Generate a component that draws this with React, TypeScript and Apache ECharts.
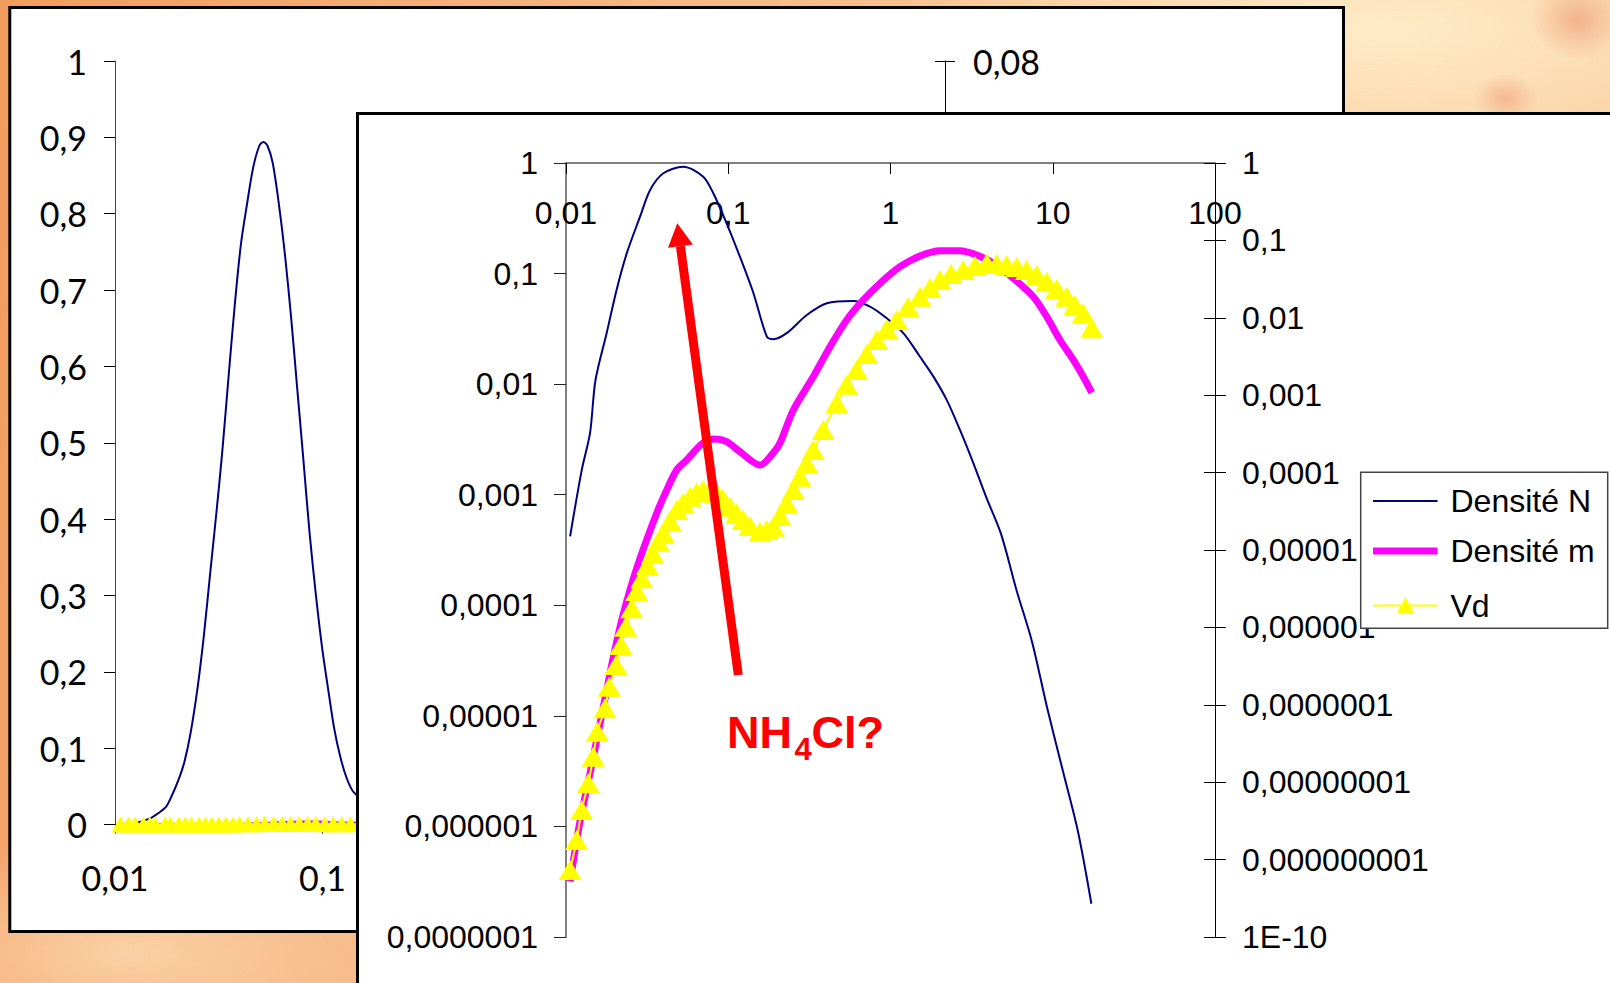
import React, { useEffect, useRef } from "react";
import * as echarts from "echarts";

// ---------- tick labels ----------
const xTickLabels = ["0,01", "0,1", "1", "10", "100"];
const leftTickLabels = ["0,0000001", "0,000001", "0,00001", "0,0001", "0,001", "0,01", "0,1", "1"];
const rightTickLabels = ["1E-10", "0,000000001", "0,00000001", "0,0000001", "0,000001", "0,00001", "0,0001", "0,001", "0,01", "0,1", "1"];
const backLeftLabels = ["0", "0,1", "0,2", "0,3", "0,4", "0,5", "0,6", "0,7", "0,8", "0,9", "1"];
const backRightLabels = ["0", "0,01", "0,02", "0,03", "0,04", "0,05", "0,06", "0,07", "0,08"];
const seriesNames = ["Densité N", "Densité m", "Vd"];

// ---------- front chart (log-log) ----------
const nX = [0.0106, 0.0125, 0.01406, 0.0152, 0.0178, 0.0205, 0.0237, 0.0286, 0.033, 0.0398, 0.0528, 0.0701, 0.0809, 0.0977, 0.118, 0.143, 0.173, 0.19, 0.229, 0.305, 0.405, 0.59, 0.748, 0.948, 1.2, 1.52, 1.84, 2.22, 2.68, 3.24, 3.9, 4.8, 5.98, 7.45, 9.25, 11.5, 14.3, 17.3];
const nY = [4.2e-4, 1.67e-3, 3.6e-3, 0.0109, 0.0289, 0.0711, 0.153, 0.327, 0.57, 0.807, 0.926, 0.752, 0.532, 0.285, 0.142, 0.0664, 0.0269, 0.0255, 0.0289, 0.0422, 0.0539, 0.0565, 0.0502, 0.0394, 0.0289, 0.0177, 0.0117, 0.0072, 3.85e-3, 1.93e-3, 9.4e-4, 4.42e-4, 1.37e-4, 4.69e-5, 1.17e-5, 3.25e-6, 9.0e-7, 2.0e-7];

const mX = [0.0106, 0.0122, 0.01406, 0.017, 0.0196, 0.0226, 0.0273, 0.0362, 0.0418, 0.0481, 0.0555, 0.0699, 0.0829, 0.0977, 0.118, 0.157, 0.189, 0.208, 0.252, 0.334, 0.424, 0.537, 0.68, 0.862, 1.144, 1.52, 2.02, 2.68, 3.4, 4.3, 5.71, 7.59, 9.18, 11.08, 13.39, 15.42, 17.4];
const mY = [5.2e-10, 3.15e-9, 1.3e-8, 9.45e-8, 4.19e-7, 1.52e-6, 5.85e-6, 2.98e-5, 5.96e-5, 1.08e-4, 1.46e-4, 2.41e-4, 2.72e-4, 2.51e-4, 1.86e-4, 1.25e-4, 1.79e-4, 2.39e-4, 6.44e-4, 1.73e-3, 4.23e-3, 9.37e-3, 0.017, 0.0279, 0.0457, 0.0629, 0.0736, 0.0736, 0.0648, 0.0506, 0.0324, 0.0187, 0.01033, 5.17e-3, 2.85e-3, 1.73e-3, 1.08e-3];

const vX = [0.0106, 0.01164, 0.0125, 0.01372, 0.01473, 0.0156, 0.0174, 0.01849, 0.02033, 0.02183, 0.02333, 0.0254, 0.02727, 0.02929, 0.0317, 0.03423, 0.03707, 0.0398, 0.04375, 0.04812, 0.05261, 0.05811, 0.0639, 0.0701, 0.07717, 0.08487, 0.0928, 0.1025, 0.1127, 0.1238, 0.1361, 0.157, 0.1726, 0.1896, 0.2084, 0.229, 0.2518, 0.2768, 0.3045, 0.334, 0.3853, 0.4661, 0.537, 0.6191, 0.7135, 0.8222, 0.948, 1.092, 1.282, 1.52, 1.751, 2.018, 2.36, 2.81, 3.32, 3.92, 4.51, 5.2, 6.0, 6.91, 7.96, 9.18, 10.57, 12.19, 13.71, 15.42, 17.4];
const vY = [7.35e-10, 1.79e-9, 4.38e-9, 9.68e-9, 2.14e-8, 4.49e-8, 9.02e-8, 1.71e-7, 3.27e-7, 5.92e-7, 1.02e-6, 1.77e-6, 2.95e-6, 4.31e-6, 6.4e-6, 9.07e-6, 1.28e-5, 1.64e-5, 2.37e-5, 3.29e-5, 4.05e-5, 4.89e-5, 5.53e-5, 5.96e-5, 5.78e-5, 5.4e-5, 4.56e-5, 3.63e-5, 2.96e-5, 2.44e-5, 2.04e-5, 1.72e-5, 1.81e-5, 2.0e-5, 2.75e-5, 4.01e-5, 5.96e-5, 8.85e-5, 1.32e-4, 1.96e-4, 3.55e-4, 7.86e-4, 1.36e-3, 2.12e-3, 3.41e-3, 5.17e-3, 7.17e-3, 9.37e-3, 0.0138, 0.0187, 0.0243, 0.0308, 0.0368, 0.0415, 0.0467, 0.0506, 0.0496, 0.0481, 0.0453, 0.0415, 0.0357, 0.0293, 0.0236, 0.0187, 0.01464, 0.01143, 0.00732];

// ---------- back chart (log x, linear y) ----------
const bnX = [0.0106, 0.0125, 0.0148, 0.0162, 0.0176, 0.0188, 0.0202, 0.0216, 0.0231, 0.025, 0.0268, 0.0287, 0.0308, 0.0329, 0.0352, 0.0377, 0.0404, 0.0433, 0.0463, 0.0496, 0.0519, 0.0543, 0.0575, 0.0616, 0.066, 0.0706, 0.0756, 0.081, 0.0867, 0.0929, 0.0994, 0.1065, 0.114, 0.122, 0.1307, 0.1416, 0.17, 0.19, 0.229, 0.305, 0.405, 0.59, 0.948, 1.52, 2.68, 4.8, 9.25, 17.3];
const bnY = [0.0004, 0.0017, 0.008, 0.015, 0.023, 0.038, 0.058, 0.082, 0.119, 0.179, 0.247, 0.327, 0.408, 0.489, 0.584, 0.678, 0.759, 0.813, 0.86, 0.889, 0.894, 0.889, 0.867, 0.813, 0.745, 0.664, 0.57, 0.476, 0.381, 0.301, 0.233, 0.177, 0.125, 0.088, 0.061, 0.042, 0.027, 0.0255, 0.029, 0.042, 0.054, 0.0565, 0.039, 0.0177, 0.0039, 0.0004, 0.00001, 0.0000002];

const pairs = (xs: number[], ys: number[]) => xs.map((x, i) => [x, ys[i]]);
const logLabel = (labels: string[], offset: number) => (v: number) => labels[Math.round(Math.log10(v)) + offset] ?? "";

const FONT = "'Liberation Sans', Arial, sans-serif";
const BACKFONT = "Lato, 'Open Sans', sans-serif";
const NAVY = "#000080";
const MAGENTA = "#FF00FF";
const YELLOW = "#FFFF00";
const RED = "#FF0000";

const noSplit = { show: false };

// legend drawn as a framed block (rows: line sample + label)
const LEG = { x: 1360.7, y: 472.3, w: 247, h: 156, lx1: 1373, lx2: 1437.5, tx: 1450.5, rows: [501, 551, 605.5] };
const legendColors = [NAVY, MAGENTA, YELLOW];
const legendWidths = [2, 7, 2];

const legendElements: any[] = [
  { type: "rect", z: 50, shape: { x: LEG.x, y: LEG.y, width: LEG.w, height: LEG.h }, style: { fill: "#fff", stroke: "#444", lineWidth: 1.5 } },
  ...seriesNames.map((name, i) => ({
    type: "line", z: 51,
    shape: { x1: LEG.lx1, y1: LEG.rows[i], x2: LEG.lx2, y2: LEG.rows[i] },
    style: { stroke: legendColors[i], lineWidth: legendWidths[i] },
  })),
  {
    type: "polygon", z: 52,
    shape: { points: [[1405.5, LEG.rows[2] - 8.5], [1397, LEG.rows[2] + 7.5], [1414, LEG.rows[2] + 7.5]] },
    style: { fill: YELLOW },
  },
  ...seriesNames.map((name, i) => ({
    type: "text", z: 52, x: LEG.tx, y: LEG.rows[i],
    style: { text: name, fill: "#000", font: `32px ${FONT}`, align: "left", verticalAlign: "middle" },
  })),
];

const frontOption: any = {
  animation: false,
  grid: { left: 566, top: 163, width: 649, height: 774, containLabel: false, outerBoundsMode: "none" },
  xAxis: [
    {
      type: "log", logBase: 10, min: 0.01, max: 100, interval: 1, position: "top",
      axisLine: { show: true, lineStyle: { color: "#808080", width: 2 } },
      axisTick: { show: true, inside: true, length: 11, lineStyle: { color: "#000", width: 1 } },
      minorTick: { show: false },
      axisLabel: { inside: true, margin: 34, fontSize: 32, fontFamily: FONT, color: "#000", hideOverlap: false, showMinLabel: true, showMaxLabel: true, formatter: logLabel(xTickLabels, 2) },
      splitLine: noSplit,
    },
  ],
  yAxis: [
    {
      type: "log", logBase: 10, min: 1e-7, max: 1, interval: 1, position: "left",
      axisLine: { show: true, lineStyle: { color: "#808080", width: 2 } },
      axisTick: { show: true, inside: false, length: 12, lineStyle: { color: "#222", width: 1 } },
      axisLabel: { margin: 28, fontSize: 32, fontFamily: FONT, color: "#000", hideOverlap: false, showMinLabel: true, showMaxLabel: true, formatter: logLabel(leftTickLabels, 7) },
      splitLine: noSplit,
    },
    {
      type: "log", logBase: 10, min: 1e-10, max: 1, interval: 1, position: "right",
      axisLine: { show: true, lineStyle: { color: "#000", width: 1 } },
      axisTick: { show: true, inside: false, length: 11, lineStyle: { color: "#000", width: 1 } },
      axisLabel: { margin: 27, fontSize: 32, fontFamily: FONT, color: "#000", hideOverlap: false, showMinLabel: true, showMaxLabel: true, formatter: logLabel(rightTickLabels, 10) },
      splitLine: noSplit,
    },
    {
      type: "log", logBase: 10, min: 1e-10, max: 1, interval: 1, position: "right",
      axisLine: { show: false },
      axisTick: { show: true, inside: true, length: 11, lineStyle: { color: "#000", width: 1 } },
      axisLabel: { show: false },
      splitLine: noSplit,
    },
  ],
  graphic: {
    elements: [
      { type: "rect", z: -10, shape: { x: 357.5, y: 113.5, width: 1300, height: 900 }, style: { fill: "#fff", stroke: "#000", lineWidth: 3 } },
      { type: "line", z: 100, shape: { x1: 738.3, y1: 675, x2: 680.4, y2: 246.1 }, style: { stroke: RED, lineWidth: 9 } },
      { type: "polygon", z: 100, shape: { points: [[677.3, 223.3], [668, 247.8], [692.8, 244.4]] }, style: { fill: RED } },
      { type: "text", z: 100, x: 727, y: 732.6, style: { text: "NH", fill: RED, font: `bold 45px ${FONT}`, align: "left", verticalAlign: "middle" } },
      { type: "text", z: 100, x: 794.5, y: 749.5, style: { text: "4", fill: RED, font: `bold 31px ${FONT}`, align: "left", verticalAlign: "middle" } },
      { type: "text", z: 100, x: 811.5, y: 732.6, style: { text: "Cl?", fill: RED, font: `bold 45px ${FONT}`, align: "left", verticalAlign: "middle" } },
      ...legendElements,
    ],
  },
  series: [
    {
      name: seriesNames[0], type: "line", xAxisIndex: 0, yAxisIndex: 0, data: pairs(nX, nY), symbol: "none", smooth: 0.3, z: 3,
      lineStyle: { color: NAVY, width: 2 }, itemStyle: { color: NAVY },
    },
    {
      name: seriesNames[1], type: "line", xAxisIndex: 0, yAxisIndex: 1, data: pairs(mX, mY), symbol: "none", smooth: 0.3, z: 4,
      lineStyle: { color: MAGENTA, width: 7 }, itemStyle: { color: MAGENTA },
    },
    {
      name: seriesNames[2], type: "line", xAxisIndex: 0, yAxisIndex: 1, data: pairs(vX, vY), symbol: "triangle", symbolSize: [23, 20],
      showSymbol: true, showAllSymbol: true, smooth: 0.3, z: 5,
      lineStyle: { color: YELLOW, width: 2 }, itemStyle: { color: YELLOW, borderWidth: 0 },
    },
  ],
};

const backOption: any = {
  animation: false,
  grid: { left: 115, top: 61, width: 830, height: 763.5, containLabel: false, outerBoundsMode: "none" },
  xAxis: [
    {
      type: "log", logBase: 10, min: 0.01, max: 100, interval: 1, position: "bottom",
      axisLine: { show: true, lineStyle: { color: "#000", width: 1 } },
      axisTick: { show: true, inside: false, length: 9, lineStyle: { color: "#000", width: 1 } },
      minorTick: { show: false },
      axisLabel: { margin: 36, fontSize: 34, fontFamily: BACKFONT, color: "#000", hideOverlap: false, showMinLabel: true, formatter: logLabel(xTickLabels, 2) },
      splitLine: noSplit,
    },
  ],
  yAxis: [
    {
      type: "value", min: 0, max: 1, interval: 0.1, position: "left",
      axisLine: { show: true, lineStyle: { color: "#444", width: 1 } },
      axisTick: { show: true, inside: false, length: 11, lineStyle: { color: "#000", width: 1 } },
      axisLabel: { margin: 28, fontSize: 34, fontFamily: BACKFONT, color: "#000", hideOverlap: false, formatter: (v: number) => backLeftLabels[Math.round(v * 10)] ?? "" },
      splitLine: noSplit,
    },
    {
      type: "value", min: 0, max: 0.08, interval: 0.01, position: "right",
      axisLine: { show: true, lineStyle: { color: "#000", width: 1 } },
      axisTick: { show: true, inside: false, length: 10, lineStyle: { color: "#000", width: 1 } },
      axisLabel: { margin: 28, fontSize: 34, fontFamily: BACKFONT, color: "#000", hideOverlap: false, formatter: (v: number) => backRightLabels[Math.round(v * 100)] ?? "" },
      splitLine: noSplit,
    },
    {
      type: "value", min: 0, max: 0.08, interval: 0.01, position: "right",
      axisLine: { show: false },
      axisTick: { show: true, inside: true, length: 10, lineStyle: { color: "#000", width: 1 } },
      axisLabel: { show: false },
      splitLine: noSplit,
    },
  ],
  graphic: {
    elements: [
      { type: "rect", z: -10, shape: { x: 9.8, y: 7.5, width: 1333.7, height: 924 }, style: { fill: "#fff", stroke: "#000", lineWidth: 3 } },
    ],
  },
  series: [
    {
      name: seriesNames[0], type: "line", yAxisIndex: 0, data: pairs(bnX, bnY), symbol: "none", smooth: 0.3, z: 3,
      lineStyle: { color: NAVY, width: 2 }, itemStyle: { color: NAVY },
    },
    {
      name: seriesNames[1], type: "line", yAxisIndex: 1, data: pairs(mX, mY), symbol: "none", z: 4,
      lineStyle: { color: MAGENTA, width: 3 }, itemStyle: { color: MAGENTA },
    },
    {
      name: seriesNames[2], type: "line", yAxisIndex: 1, data: pairs(vX, vY), symbol: "triangle", symbolSize: [18, 16],
      showSymbol: true, showAllSymbol: true, z: 5,
      lineStyle: { color: YELLOW, width: 2 }, itemStyle: { color: YELLOW, borderWidth: 0 },
    },
  ],
};

export default function App() {
  const backRef = useRef<HTMLDivElement>(null);
  const frontRef = useRef<HTMLDivElement>(null);

  useEffect(() => {
    const back = echarts.init(backRef.current as HTMLDivElement, null, { renderer: "svg" });
    back.setOption(backOption);
    const front = echarts.init(frontRef.current as HTMLDivElement, null, { renderer: "svg" });
    front.setOption(frontOption);
    return () => {
      back.dispose();
      front.dispose();
    };
  }, []);

  const bg =
    "radial-gradient(ellipse 3% 4% at 98% 2%, rgba(236,140,105,0.55) 0%, rgba(236,140,105,0) 100%)," +
    "radial-gradient(ellipse 2% 2.5% at 93.5% 10%, rgba(236,140,105,0.45) 0%, rgba(236,140,105,0) 100%)," +
    "radial-gradient(ellipse 30% 14% at 85% 3%, rgba(255,240,205,0.85) 0%, rgba(255,240,205,0) 100%)," +
    "radial-gradient(ellipse 20% 12% at 8% 97%, rgba(255,235,200,0.6) 0%, rgba(255,235,200,0) 100%)," +
    "linear-gradient(100deg, #F29C5F 0%, #F5AF7A 25%, #F8C593 55%, #FAD3A5 80%, #F9CC9C 100%)";

  return (
    <div style={{ position: "fixed", left: 0, top: 0, width: 1610, height: 983, overflow: "hidden", background: bg }}>
      <div ref={backRef} style={{ position: "absolute", left: 0, top: 0, width: 1610, height: 983 }} />
      <div ref={frontRef} style={{ position: "absolute", left: 0, top: 0, width: 1610, height: 983 }} />
    </div>
  );
}
